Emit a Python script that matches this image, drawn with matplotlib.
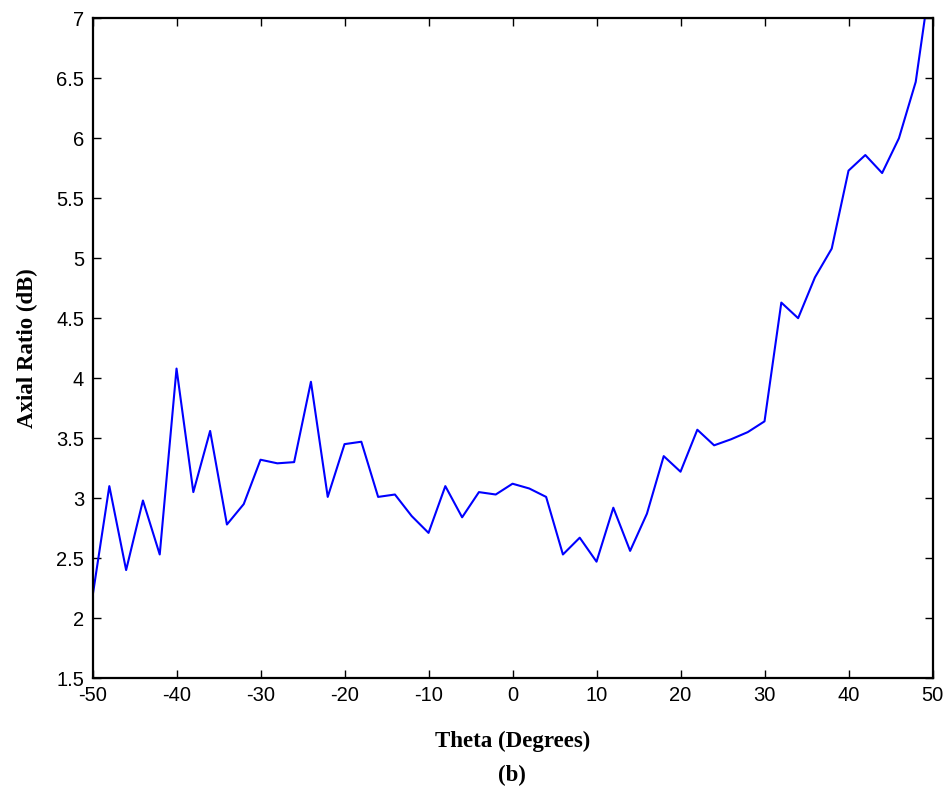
import matplotlib.pyplot as plt

# axial ratio vs theta
theta = [-50, -48, -46, -44, -42, -40, -38, -36, -34, -32,
         -30, -28, -26, -24, -22, -20, -18, -16, -14, -12,
         -10, -8, -6, -4, -2, 0, 2, 4, 6, 8,
         10, 12, 14, 16, 18, 20, 22, 24, 26, 28,
         30, 32, 34, 36, 38, 40, 42, 44, 46, 48, 50]
axial_ratio = [2.18, 3.10, 2.40, 2.98, 2.53, 4.08, 3.05, 3.56, 2.78, 2.95,
               3.32, 3.29, 3.30, 3.97, 3.01, 3.45, 3.47, 3.01, 3.03, 2.85,
               2.71, 3.10, 2.84, 3.05, 3.03, 3.12, 3.08, 3.01, 2.53, 2.67,
               2.47, 2.92, 2.56, 2.87, 3.35, 3.22, 3.57, 3.44, 3.49, 3.55,
               3.64, 4.63, 4.50, 4.84, 5.08, 5.73, 5.86, 5.71, 6.00, 6.47, 7.45]

xticks = list(range(-50, 51, 10))
yticks = [1.5, 2, 2.5, 3, 3.5, 4, 4.5, 5, 5.5, 6, 6.5, 7]
ytick_labels = ['1.5', '2', '2.5', '3', '3.5', '4', '4.5', '5', '5.5', '6', '6.5', '7']

fig = plt.figure(figsize=(9.5, 7.96), dpi=100)
ax = fig.add_axes([0.0974, 0.1482, 0.8842, 0.8288])

ax.plot(theta, axial_ratio, color='#0000ff', linewidth=1.5)
ax.set_xlim(-50, 50)
ax.set_ylim(1.5, 7)

ax.set_xticks(xticks)
ax.set_xticklabels([str(t) for t in xticks])
ax.set_yticks(yticks)
ax.set_yticklabels(ytick_labels)
ax.tick_params(direction='in', top=True, right=True, length=6, width=1,
               labelsize=14.5, pad=6)
for lbl in ax.get_xticklabels() + ax.get_yticklabels():
    lbl.set_family('Liberation Sans')
for s in ax.spines.values():
    s.set_linewidth(1.6)

ax.set_xlabel('Theta (Degrees)', family='Liberation Serif', fontweight='bold',
              fontsize=16.5, labelpad=18)
ax.set_ylabel('Axial Ratio (dB)', family='Liberation Serif', fontweight='bold',
              fontsize=16.5, labelpad=13)
fig.text(0.539, 0.012, '(b)', family='Liberation Serif', fontweight='bold',
         fontsize=16.5, ha='center', va='bottom')

fig.savefig('out.png', dpi=100)
